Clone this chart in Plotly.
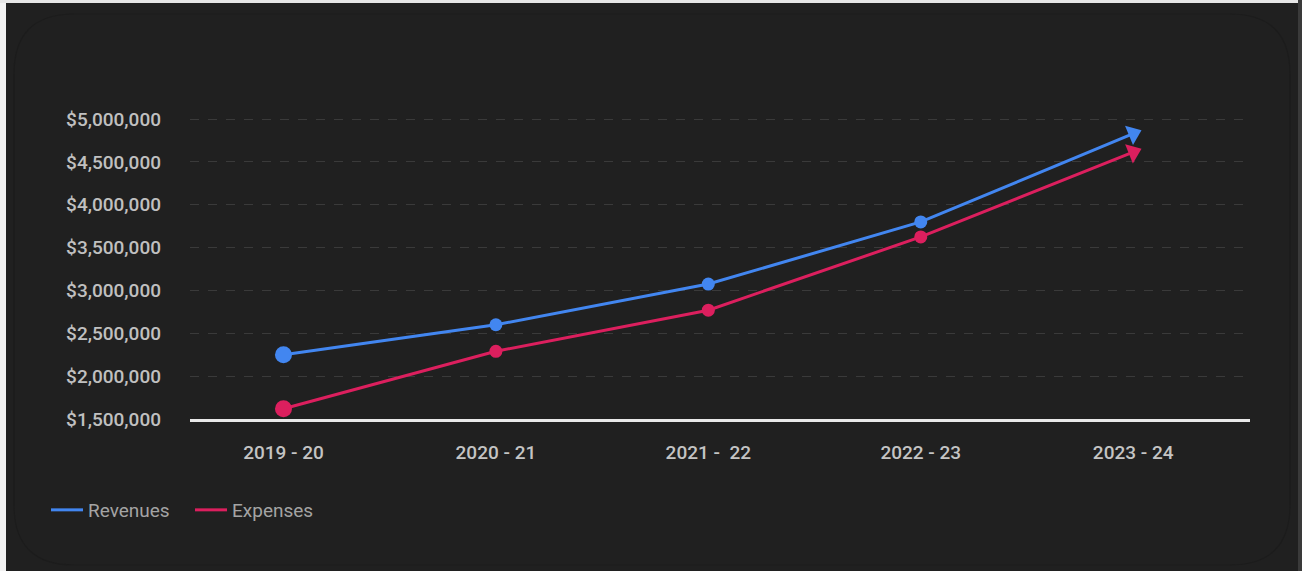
import plotly.graph_objects as go

years = ["2019 - 20", "2020 - 21", "2021 -\u00a0 22", "2022 - 23", "2023 - 24"]
revenues = [2250000, 2600000, 3075000, 3800000, 4830000]
expenses = [1620000, 2290000, 2770000, 3625000, 4615000]

BG = "#202020"
BLUE = "#4286f0"
PINK = "#dc1f5e"

W, H = 1302, 571
L, R, T, B = 190, 52, 102, 152
PW, PH = W - L - R, H - T - B


def px(x):
    return (x - L) / PW


def py(y):
    return (H - B - y) / PH


fig = go.Figure()

dot_sizes = [17, 13, 13, 13, 0]

for name, vals, col in [("Revenues", revenues, BLUE), ("Expenses", expenses, PINK)]:
    fig.add_trace(go.Scatter(
        x=years, y=vals, mode="lines+markers", name=name,
        line=dict(color=col, width=3),
        marker=dict(color=col, size=dot_sizes, symbol="circle", opacity=1, line=dict(width=0)),
        cliponaxis=False, showlegend=False,
        hovertemplate="%{x}<br>%{y:$,d}<extra>" + name + "</extra>",
    ))
    # triangular arrow head at the last point, oriented along the last segment
    fig.add_trace(go.Scatter(
        x=years[-2:], y=vals[-2:], mode="markers", name=name,
        marker=dict(color=col, size=[0, 18], symbol="triangle-up", angleref="previous",
                    opacity=1, line=dict(width=0)),
        cliponaxis=False, showlegend=False,
        hovertemplate="%{x}<br>%{y:$,d}<extra>" + name + "</extra>",
    ))
    fig.add_trace(go.Scatter(
        x=[None], y=[None], mode="lines", name=name,
        line=dict(color=col, width=3), showlegend=True,
    ))

# rounded card outline (faint) and edge strips
r = 60
x0, y0, x1, y1 = 14, 14, 1290, 565
path = (f"M {px(x0 + r)},{py(y0)} L {px(x1 - r)},{py(y0)} "
        f"Q {px(x1)},{py(y0)} {px(x1)},{py(y0 + r)} "
        f"L {px(x1)},{py(y1 - r)} Q {px(x1)},{py(y1)} {px(x1 - r)},{py(y1)} "
        f"L {px(x0 + r)},{py(y1)} Q {px(x0)},{py(y1)} {px(x0)},{py(y1 - r)} "
        f"L {px(x0)},{py(y0 + r)} Q {px(x0)},{py(y0)} {px(x0 + r)},{py(y0)} Z")

shapes = [
    dict(type="path", path=path, xref="paper", yref="paper",
         line=dict(color="#1c1c1c", width=1.2), fillcolor="rgba(0,0,0,0)", layer="below"),
    dict(type="rect", xref="paper", yref="paper", x0=px(0), x1=px(6), y0=py(571), y1=py(0),
         fillcolor="#f2f2f2", line=dict(width=0), layer="above"),
    dict(type="rect", xref="paper", yref="paper", x0=px(0), x1=px(1302), y0=py(3), y1=py(0),
         fillcolor="#e6e6e6", line=dict(width=0), layer="above"),
    dict(type="rect", xref="paper", yref="paper", x0=px(1298), x1=px(1302), y0=py(571), y1=py(0),
         fillcolor="#3a3a3a", line=dict(width=0), layer="above"),
]

fig.update_layout(
    width=W, height=H,
    margin=dict(l=L, r=R, t=T, b=B),
    paper_bgcolor=BG, plot_bgcolor=BG,
    font=dict(family="Roboto, sans-serif", color="#c4c4c4", size=19),
    shapes=shapes,
    legend=dict(orientation="h", x=px(46), y=py(510), xanchor="left", yanchor="middle",
                font=dict(size=19, color="#a4a4a4"), itemwidth=32, entrywidth=97,
                bgcolor="rgba(0,0,0,0)"),
    hovermode="closest",
    xaxis=dict(
        type="category", range=[-0.44, 4.55],
        showgrid=False, zeroline=False,
        showline=True, linecolor="#e8e8e8", linewidth=3,
        ticks="", ticklabelstandoff=14,
        tickfont=dict(size=19, color="#c4c4c4", family="Roboto, sans-serif", weight=500),
        fixedrange=True,
    ),
    yaxis=dict(
        range=[1500000, 5200000], tick0=1500000, dtick=500000,
        tickprefix="$", tickformat=",d",
        showgrid=True, gridcolor="#3a3a3a", gridwidth=1, griddash="dash",
        zeroline=False, showline=False, ticks="", ticklabelstandoff=28,
        tickfont=dict(size=19, color="#c0c0c0", weight=500),
        fixedrange=True,
    ),
)

fig.write_html(
    "out.html",
    config={"displayModeBar": False},
    post_script="document.body.style.margin='0';document.body.style.background='#202020';",
)
